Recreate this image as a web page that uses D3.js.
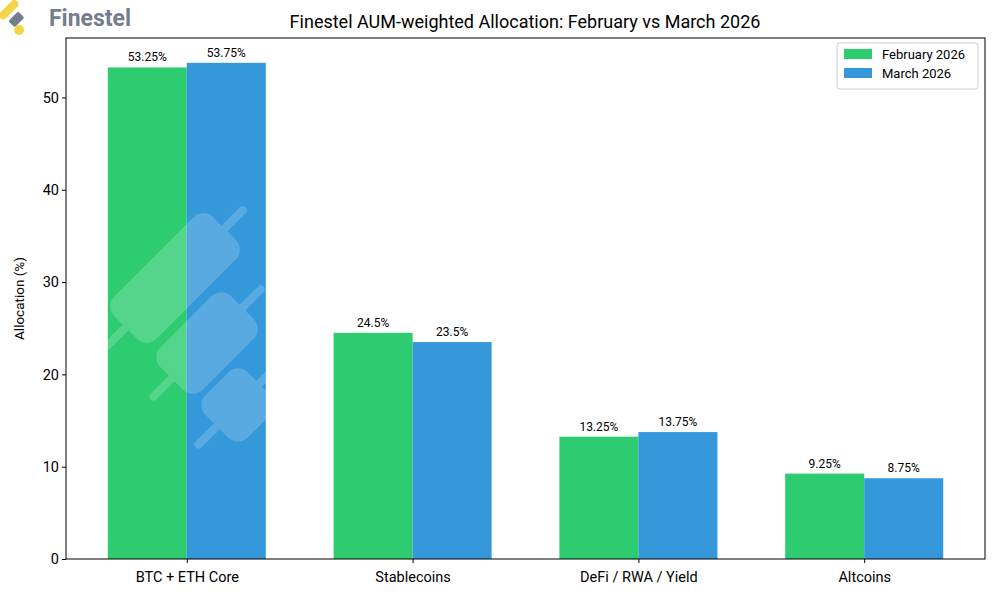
<!DOCTYPE html>
<html><head><meta charset="utf-8">
<script src="https://cdn.jsdelivr.net/npm/d3@7"></script>
<style>body{margin:0;background:#fff}text{font-family:Roboto,"Open Sans",sans-serif}</style>
</head><body><svg id="c" width="1000" height="600"></svg>
<script>
const categories=["BTC + ETH Core","Stablecoins","DeFi / RWA / Yield","Altcoins"];
const seriesNames=["February 2026","March 2026"];
const feb=[53.25,24.5,13.25,9.25];
const mar=[53.75,23.5,13.75,8.75];
const febLabels=["53.25%","24.5%","13.25%","9.25%"];
const marLabels=["53.75%","23.5%","13.75%","8.75%"];
const yTicks=[0,10,20,30,40,50];
const colors=["#2ecc71","#3498db"];

const svg=d3.select("#c");
const L=66,R=985,T=38,B=559;
const x=d3.scaleLinear().domain([-0.535,3.535]).range([L,R]);
const y=d3.scaleLinear().domain([0,56.44]).range([B,T]);
const bw=0.35;
const series=[feb,mar],labels=[febLabels,marLabels];
series.forEach((s,si)=>{
  const off=si===0?-bw:0;
  svg.selectAll(null).data(s).enter().append("rect")
    .attr("x",(d,i)=>x(i+off)).attr("width",x(bw)-x(0))
    .attr("y",d=>y(d)).attr("height",d=>B-y(d)).attr("fill",colors[si]);
  svg.selectAll(null).data(s).enter().append("text")
    .attr("x",(d,i)=>x(i+off+bw/2)).attr("y",d=>y(d)-6)
    .attr("text-anchor","middle").attr("font-size",12).text((d,i)=>labels[si][i]);
});
// watermark
const wm=svg.append("g").attr("opacity",0.18).attr("fill","#fff");
[[175,278,140],[207,343,100],[238,405,60]].forEach(([cx,cy,len])=>{
  const g=wm.append("g").attr("transform",`translate(${cx},${cy}) rotate(-45)`);
  g.append("rect").attr("x",-len/2).attr("y",-30).attr("width",len).attr("height",60).attr("rx",14);
  g.append("rect").attr("x",-len/2-30).attr("y",-4).attr("width",len+60).attr("height",8).attr("rx",4);
});
// axes
const xa=svg.append("g").attr("transform",`translate(0,${B})`)
  .call(d3.axisBottom(x).tickValues([0,1,2,3]).tickFormat(i=>categories[i]).tickSizeOuter(0).tickSize(4));
xa.selectAll("text").attr("font-size",14.5).attr("fill","#000").attr("dy","1.1em");
const ya=svg.append("g").attr("transform",`translate(${L},0)`)
  .call(d3.axisLeft(y).tickValues(yTicks).tickSizeOuter(0).tickSize(4));
ya.selectAll("text").attr("font-size",14.5).attr("fill","#000");
svg.selectAll(".domain").remove();
svg.append("rect").attr("x",L).attr("y",T).attr("width",R-L).attr("height",B-T).attr("fill","none").attr("stroke","#000").attr("stroke-width",1);
svg.append("text").attr("transform",`translate(24,${(T+B)/2}) rotate(-90)`).attr("text-anchor","middle").attr("font-size",13.5).text("Allocation (%)");
svg.append("text").attr("x",525).attr("y",28).attr("text-anchor","middle").attr("font-size",18).text("Finestel AUM-weighted Allocation: February vs March 2026");
// legend
const lg=svg.append("g");
lg.append("rect").attr("x",837).attr("y",43).attr("width",141).attr("height",46).attr("rx",3).attr("fill","#fff").attr("stroke","#ccc");
seriesNames.forEach((n,i)=>{
  lg.append("rect").attr("x",844).attr("y",49+i*19).attr("width",28).attr("height",10).attr("fill",colors[i]);
  lg.append("text").attr("x",882).attr("y",59+i*19).attr("font-size",13).text(n);
});
// logo
const lo=svg.append("g");
lo.append("rect").attr("x",-3).attr("y",-12).attr("width",8).attr("height",24).attr("rx",4).attr("fill","#f5d547").attr("transform","translate(8,9) rotate(45)");
lo.append("rect").attr("x",-4).attr("y",-7).attr("width",9).attr("height",14).attr("rx",2).attr("fill","#737d90").attr("transform","translate(16,19) rotate(45)");
lo.append("circle").attr("cx",19).attr("cy",30).attr("r",5).attr("fill","#f5d547");
lo.append("text").attr("x",49).attr("y",26).attr("font-size",23).attr("font-weight","bold").attr("fill","#737d90").text("Finestel");
</script></body></html>
